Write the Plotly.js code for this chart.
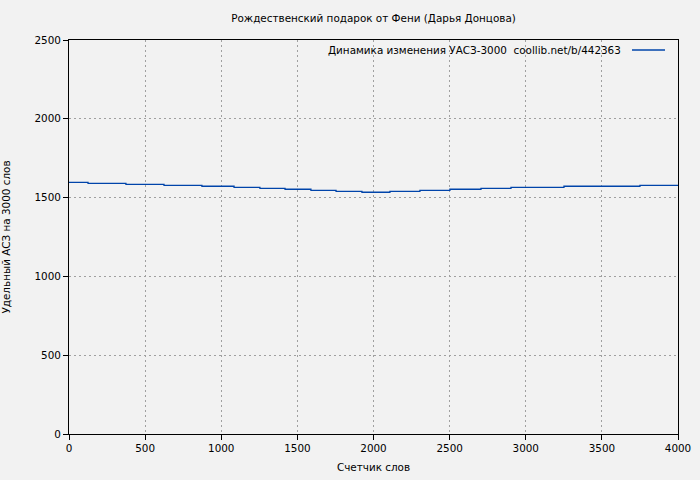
<!DOCTYPE html>
<html>
<head>
<meta charset="utf-8">
<script src="https://cdn.plot.ly/plotly-3.0.1.min.js"></script>
<style>
  html, body { margin: 0; padding: 0; background: #f2f2f2; }
  #chart { width: 700px; height: 480px; }
</style>
</head>
<body>
<div id="chart"></div>
<script>
// word counter (step starts) and specific AСЗ per 3000 words
const wordCount = [0, 125, 374, 624, 873, 1084, 1254, 1419, 1589, 1754, 1924,
                   2108, 2305, 2502, 2706, 2903, 3251, 3750, 4000];
const uasz = [1597, 1590, 1584, 1578, 1572, 1565, 1559, 1553, 1546, 1540, 1534,
              1540, 1546, 1553, 1559, 1565, 1572, 1578, 1578];

const xTicks = [0, 500, 1000, 1500, 2000, 2500, 3000, 3500, 4000];
const yTicks = [0, 500, 1000, 1500, 2000, 2500];

const chartTitle = 'Рождественский подарок от Фени (Дарья Донцова)';
const legendText = 'Динамика изменения УАСЗ-3000  coollib.net/b/442363';
const lineColor = '#0044aa';

const font = { family: 'DejaVu Sans, Verdana, sans-serif', size: 10.4, color: '#000' };

const trace = {
    x: wordCount,
    y: uasz,
    type: 'scatter',
    mode: 'lines',
    line: { shape: 'hv', color: lineColor, width: 1.3 },
    showlegend: false,
    hoverinfo: 'x+y'
};

const gridStyle = {
    showgrid: true,
    gridcolor: '#a0a0a0',
    griddash: '2px,3px',
    gridwidth: 1
};

const layout = {
    width: 700,
    height: 480,
    paper_bgcolor: '#f2f2f2',
    plot_bgcolor: '#f2f2f2',
    font: font,
    margin: { l: 69, r: 22, t: 40, b: 46, pad: 0 },
    title: {
        text: chartTitle,
        font: font,
        x: 0.5,
        xref: 'paper',
        xanchor: 'center',
        y: 1 - 18 / 480,
        yanchor: 'middle'
    },
    xaxis: Object.assign({
        range: [0, 4000],
        tickvals: xTicks,
        ticks: 'outside',
        ticklen: 5,
        tickcolor: '#000',
        showline: true,
        linecolor: '#000',
        linewidth: 1,
        mirror: true,
        zeroline: false,
        tickfont: font,
        title: { text: 'Счетчик слов', font: font, standoff: 10 },
        automargin: false
    }, gridStyle),
    yaxis: Object.assign({
        range: [0, 2500],
        tickvals: yTicks,
        ticks: 'outside',
        ticklen: 5,
        tickcolor: '#000',
        showline: true,
        linecolor: '#000',
        linewidth: 1,
        mirror: true,
        zeroline: false,
        tickfont: font,
        title: { text: 'Удельный АСЗ на 3000 слов', font: font, standoff: 22 },
        automargin: false
    }, gridStyle),
    annotations: [{
        xref: 'paper', yref: 'paper',
        x: (623 - 69) / 609, y: (434 - 50) / 394,
        xanchor: 'right', yanchor: 'middle',
        text: legendText,
        showarrow: false,
        font: font
    }],
    shapes: [{
        type: 'line',
        xref: 'paper', yref: 'paper',
        x0: (632 - 69) / 609, x1: (665 - 69) / 609,
        y0: (434 - 50) / 394, y1: (434 - 50) / 394,
        line: { color: lineColor, width: 1.3 }
    }]
};

Plotly.newPlot('chart', [trace], layout, { staticPlot: true });
</script>
</body>
</html>
